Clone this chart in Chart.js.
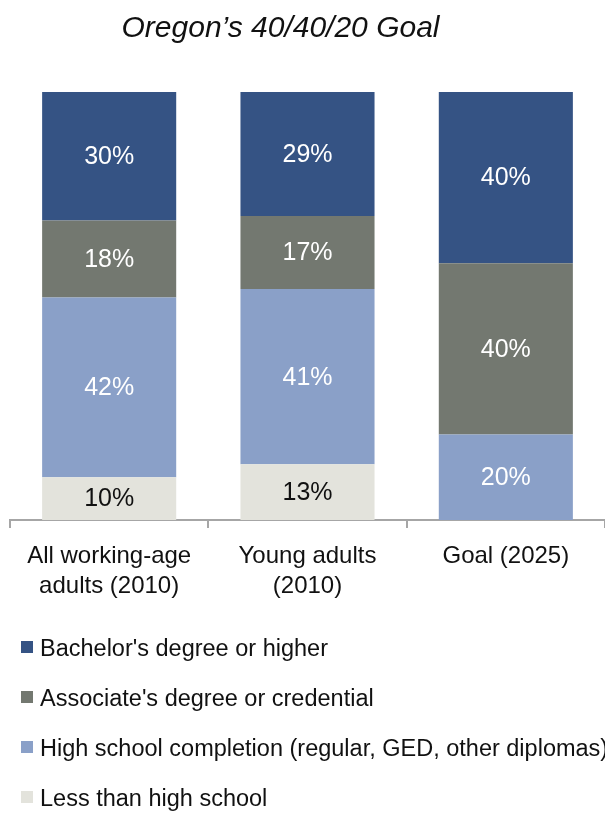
<!DOCTYPE html>
<html>
<head>
<meta charset="utf-8">
<script src="https://cdn.jsdelivr.net/npm/chart.js@4"></script>
<style>
  html, body { margin: 0; padding: 0; background: #fff; overflow: hidden; }
  #wrap { width: 605px; height: 815px; }
</style>
</head>
<body>
<div id="wrap"><canvas id="goalChart" width="605" height="815"></canvas></div>
<script>
// Attainment shares (%) for each group, bottom segment first
const groups = [['All working-age', 'adults (2010)'], ['Young adults', '(2010)'], ['Goal (2025)']];
const lessThanHS = [10, 13, 0];
const highSchool = [42, 41, 20];
const associates = [18, 17, 40];
const bachelors = [30, 29, 40];

const seriesNames = [
    'Less than high school',
    'High school completion (regular, GED, other diplomas)',
    "Associate's degree or credential",
    "Bachelor's degree or higher"
];
const seriesColors = ['#e3e3dc', '#8aa0c8', '#737870', '#355384'];
const labelColors = ['#111111', '#ffffff', '#ffffff', '#ffffff'];

const FONT = "'Liberation Sans', Arial, sans-serif";

// Writes the percentage in the middle of every segment
const segmentLabels = {
    id: 'segmentLabels',
    afterDatasetsDraw(chart) {
        const ctx = chart.ctx;
        ctx.save();
        ctx.font = '25px ' + FONT;
        ctx.textAlign = 'center';
        ctx.textBaseline = 'middle';
        chart.data.datasets.forEach((ds, i) => {
            const meta = chart.getDatasetMeta(i);
            meta.data.forEach((bar, j) => {
                const v = ds.data[j];
                if (!v) return;
                ctx.fillStyle = labelColors[i];
                ctx.fillText(v + '%', bar.x, (bar.y + bar.base) / 2 + 1);
            });
        });
        ctx.restore();
    }
};

// Vertical legend in the lower part, top series listed first
const stackedLegend = {
    id: 'stackedLegend',
    afterDraw(chart) {
        const ctx = chart.ctx;
        ctx.save();
        ctx.font = '23.5px ' + FONT;
        ctx.textBaseline = 'middle';
        const items = chart.data.datasets.slice().reverse();
        items.forEach((ds, k) => {
            const y = 650 + k * 50;
            ctx.fillStyle = ds.backgroundColor;
            ctx.fillRect(21, y - 9, 12, 12);
            ctx.fillStyle = '#111111';
            ctx.fillText(ds.label, 40, y);
        });
        ctx.restore();
    }
};

// Title sits a little left of the plot centre
const titleShift = {
    id: 'titleShift',
    afterLayout(chart) {
        if (chart.titleBlock) {
            chart.titleBlock.left -= 54;
        }
    }
};

const ctx = document.getElementById('goalChart').getContext('2d');
new Chart(ctx, {
    type: 'bar',
    data: {
        labels: groups,
        datasets: [lessThanHS, highSchool, associates, bachelors].map((d, i) => ({
            label: seriesNames[i],
            data: d,
            backgroundColor: seriesColors[i],
            borderWidth: 0,
            barPercentage: 0.676,
            categoryPercentage: 1.0
        }))
    },
    options: {
        responsive: false,
        animation: false,
        layout: { padding: { left: 10, right: 0, top: 0, bottom: 201 } },
        plugins: {
            legend: { display: false },
            tooltip: { enabled: false },
            title: {
                display: true,
                text: 'Oregon\u2019s 40/40/20 Goal',
                color: '#111111',
                font: { family: FONT, size: 30, style: 'italic', weight: 'normal', lineHeight: 1.2 },
                padding: { top: 11, bottom: 45 }
            }
        },
        scales: {
            x: {
                stacked: true,
                grid: {
                    display: true,
                    drawOnChartArea: false,
                    drawTicks: true,
                    tickLength: 8,
                    color: '#a6a6a6',
                    lineWidth: 2,
                    offset: true
                },
                border: { display: true, color: '#a6a6a6', width: 2 },
                ticks: {
                    color: '#111111',
                    padding: 13,
                    maxRotation: 0,
                    font: { family: FONT, size: 24, lineHeight: 1.25 }
                }
            },
            y: {
                stacked: true,
                display: false,
                min: 0,
                max: 100
            }
        }
    },
    plugins: [segmentLabels, stackedLegend, titleShift]
});
</script>
</body>
</html>
